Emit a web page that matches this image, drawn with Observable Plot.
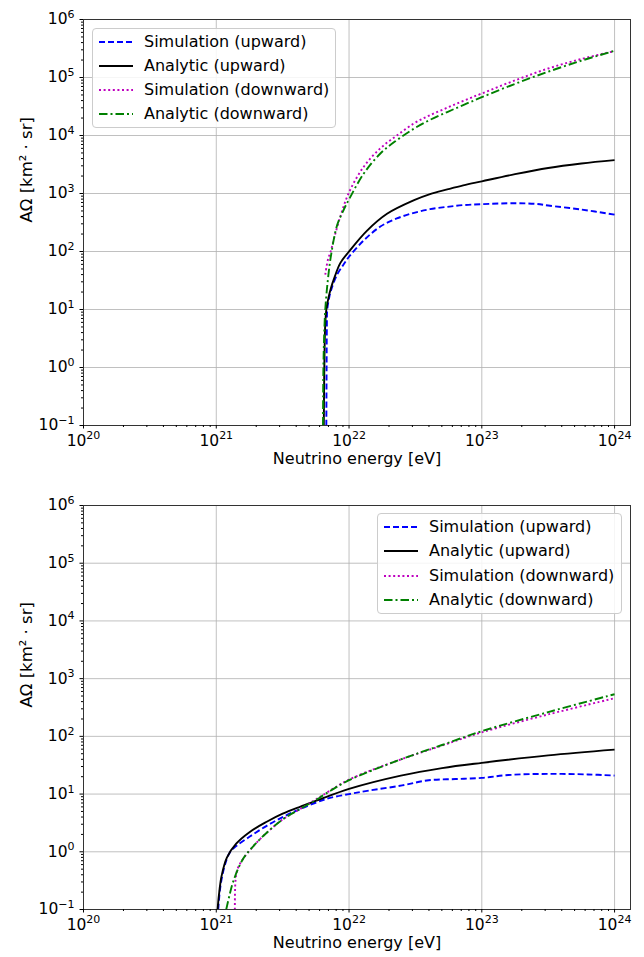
<!DOCTYPE html>
<html><head><meta charset="utf-8">
<script src="https://cdn.jsdelivr.net/npm/d3@7"></script>
<script src="https://cdn.jsdelivr.net/npm/@observablehq/plot@0.6"></script>
<style>
body{margin:0;background:#fff;font-family:"DejaVu Sans",sans-serif;}
#wrap{position:relative;width:644px;height:957px;overflow:hidden;}
.panel{position:absolute;left:0;width:644px;}
.panel svg{display:block;}
.legend{position:absolute;background:rgba(255,255,255,0.85);border:1px solid #cccccc;border-radius:4px;box-sizing:border-box;font-size:16px;color:#000;}
.legend .row{position:absolute;left:0;height:20px;width:100%;}
.legend .row svg{position:absolute;left:6px;top:0;}
.legend .row span{position:absolute;left:51px;top:0;line-height:20px;white-space:nowrap;}
</style>
</head><body>
<div id="wrap"></div>
<script>
// ---- data (log10 of energy [eV], log10 of AΩ [km²·sr]) ----
const seriesNames = ["Simulation (upward)", "Analytic (upward)", "Simulation (downward)", "Analytic (downward)"];
const xMajorExp = [20, 21, 22, 23, 24];
const yMajorExp = [-1, 0, 1, 2, 3, 4, 5, 6];
const xLabel = "Neutrino energy [eV]";
const yLabel = "AΩ [km² · sr]";

// Top panel
const topSimUpE   = [21.829, 21.831, 21.833, 21.836, 21.85, 21.864, 21.91, 21.96, 22.0, 22.11, 22.236, 22.36, 22.49, 22.61, 22.74, 22.86, 23.0, 23.25, 23.41, 23.5, 23.75, 24.0];
const topSimUpA   = [-1.0, 0.0, 0.7, 1.0, 1.2, 1.33, 1.6, 1.78, 1.91, 2.19, 2.43, 2.57, 2.667, 2.73, 2.77, 2.80, 2.815, 2.833, 2.82, 2.793, 2.724, 2.635];
const topAnaUpE   = [21.81, 21.812, 21.815, 21.82, 21.829, 21.845, 21.865, 21.89, 21.934, 22.0, 22.136, 22.286, 22.49, 22.61, 22.74, 22.86, 23.0, 23.25, 23.5, 23.75, 24.0];
const topAnaUpA   = [-1.0, -0.4, 0.2, 0.7, 1.0, 1.2, 1.38, 1.55, 1.8, 2.0, 2.36, 2.65, 2.885, 2.99, 3.07, 3.14, 3.21, 3.333, 3.44, 3.517, 3.575];
const topSimDownE = [21.821, 21.84, 21.864, 21.884, 21.934, 22.0, 22.11, 22.236, 22.36, 22.49, 22.61, 22.74, 22.86, 23.0, 23.25, 23.5, 23.75, 24.0];
const topSimDownA = [1.6, 1.85, 2.02, 2.2, 2.6, 3.02, 3.46, 3.78, 4.0, 4.21, 4.35, 4.48, 4.595, 4.725, 4.95, 5.155, 5.32, 5.455];
const topAnaDownE = [21.804, 21.805, 21.807, 21.812, 21.821, 21.84, 21.864, 21.91, 21.96, 22.0, 22.11, 22.236, 22.36, 22.49, 22.61, 22.74, 22.86, 23.0, 23.25, 23.5, 23.75, 24.0];
const topAnaDownA = [-1.0, -0.5, 0.0, 0.5, 1.0, 1.5, 1.93, 2.45, 2.72, 2.9, 3.34, 3.69, 3.92, 4.12, 4.27, 4.405, 4.525, 4.66, 4.89, 5.1, 5.29, 5.46];

// Bottom panel
const botSimUpE   = [21.015, 21.03, 21.06, 21.1, 21.15, 21.25, 21.38, 21.5, 21.63, 21.76, 21.85, 22.0, 22.15, 22.4, 22.6, 22.8, 23.0, 23.2, 23.5, 23.8, 24.0];
const botSimUpA   = [-1.0, -0.62, -0.27, -0.02, 0.1, 0.26, 0.45, 0.6, 0.74, 0.86, 0.93, 1.0, 1.06, 1.15, 1.24, 1.26, 1.28, 1.33, 1.35, 1.34, 1.32];
const botAnaUpE   = [21.01, 21.02, 21.04, 21.08, 21.15, 21.25, 21.38, 21.5, 21.63, 21.76, 22.0, 22.39, 22.7, 23.0, 23.5, 24.0];
const botAnaUpA   = [-1.0, -0.75, -0.42, -0.1, 0.14, 0.34, 0.52, 0.66, 0.78, 0.89, 1.09, 1.32, 1.45, 1.54, 1.67, 1.77];
const botSimDownE = [21.14, 21.145, 21.16, 21.2, 21.28, 21.38, 21.5, 21.63, 21.76, 22.0, 22.39, 22.7, 23.0, 23.5, 24.0];
const botSimDownA = [-1.0, -0.5, -0.3, -0.13, 0.1, 0.33, 0.56, 0.74, 0.92, 1.25, 1.6, 1.84, 2.07, 2.38, 2.66];
const botAnaDownE = [21.075, 21.1, 21.13, 21.2, 21.28, 21.38, 21.5, 21.63, 21.76, 21.82, 22.0, 22.39, 22.7, 23.0, 23.5, 24.0];
const botAnaDownA = [-1.0, -0.75, -0.5, -0.13, 0.1, 0.33, 0.56, 0.74, 0.91, 1.0, 1.24, 1.6, 1.85, 2.09, 2.42, 2.73];

// ---- styles ----
const seriesColors = ["#0000ff", "#000000", "#bf00bf", "#008000"];
const seriesDashes = ["6,3", null, "2,2.6", "8.5,3,2,3"];

const majorX = xMajorExp.map(e => 10 ** e);
const majorY = yMajorExp.map(e => 10 ** e);
const minorX = xMajorExp.slice(0, -1).flatMap(e => d3.range(2, 10).map(k => k * 10 ** e));
const minorY = yMajorExp.slice(0, -1).flatMap(e => d3.range(2, 10).map(k => k * 10 ** e));

function buildSeries(list) {
  return list.map(([E, A], i) => ({
    name: seriesNames[i], color: seriesColors[i], dash: seriesDashes[i],
    pts: E.map((e, j) => ({E: 10 ** e, A: 10 ** A[j]}))
  }));
}

function supFormat(svg) {
  d3.select(svg).selectAll("text").each(function() {
    const t = this.textContent;
    const m = /^10\^(.+)$/.exec(t);
    if (!m) return;
    const sel = d3.select(this);
    sel.text("10");
    sel.append("tspan").attr("dy", "-6.5").attr("font-size", "11px").text(m[1]);
  });
}

function makePanel(series, height, mt, mb) {
  const fmt = d => { const n = Math.round(Math.log10(d)); return "10^" + (n < 0 ? "\u2212" + (-n) : n); };
  const svg = Plot.plot({
    width: 644, height,
    marginLeft: 83, marginRight: 14, marginTop: mt, marginBottom: mb,
    style: {fontFamily: "DejaVu Sans, sans-serif", fontSize: "15.5px", color: "#000", background: "white"},
    x: {type: "log", domain: [1e20, 10 ** 24.12]},
    y: {type: "log", domain: [1e-1, 1e6]},
    marks: [
      Plot.gridX(majorX, {stroke: "#b0b0b0", strokeOpacity: 0.8, strokeWidth: 1}),
      Plot.gridY(majorY, {stroke: "#b0b0b0", strokeOpacity: 0.8, strokeWidth: 1}),
      ...series.map(s => Plot.line(s.pts, {
        x: "E", y: "A", stroke: s.color, strokeWidth: 1.9,
        strokeDasharray: s.dash, strokeLinecap: "butt", curve: "catmull-rom", clip: true
      })),
      Plot.frame({stroke: "#333", strokeWidth: 1}),
      Plot.axisX(majorX, {tickSize: 3.5, tickPadding: 5.5, tickFormat: fmt, fontSize: 15.5, label: null}),
      Plot.axisX(minorX, {tickSize: 2, tickFormat: () => "", label: null}),
      Plot.axisY(majorY, {tickSize: 3.5, tickPadding: 5.5, tickFormat: fmt, fontSize: 15.5, label: null}),
      Plot.axisY(minorY, {tickSize: 2, tickFormat: () => "", label: null}),
      Plot.text([xLabel], {text: d => d, frameAnchor: "bottom", dy: 38, fontSize: 16}),
      Plot.text([yLabel], {text: d => d, frameAnchor: "left", dx: -57, rotate: -90, fontSize: 16.5})
    ]
  });
  supFormat(svg);
  return svg;
}

function makeLegend(series, left, top, w, h, rowTop, rowStep) {
  const lg = document.createElement("div");
  lg.className = "legend";
  Object.assign(lg.style, {left: left + "px", top: top + "px", width: w + "px", height: h + "px"});
  series.forEach((s, i) => {
    const row = document.createElement("div");
    row.className = "row";
    row.style.top = (rowTop + rowStep * i - 10) + "px";
    const ns = "http://www.w3.org/2000/svg";
    const sv = document.createElementNS(ns, "svg");
    sv.setAttribute("width", "34"); sv.setAttribute("height", "20");
    const ln = document.createElementNS(ns, "line");
    ln.setAttribute("x1", "0"); ln.setAttribute("x2", "34");
    ln.setAttribute("y1", "10"); ln.setAttribute("y2", "10");
    ln.setAttribute("stroke", s.color); ln.setAttribute("stroke-width", "1.9");
    if (s.dash) ln.setAttribute("stroke-dasharray", s.dash);
    sv.appendChild(ln);
    const sp = document.createElement("span");
    sp.textContent = s.name;
    row.appendChild(sv); row.appendChild(sp);
    lg.appendChild(row);
  });
  return lg;
}

const wrap = document.getElementById("wrap");

const topSeries = buildSeries([[topSimUpE, topSimUpA], [topAnaUpE, topAnaUpA], [topSimDownE, topSimDownA], [topAnaDownE, topAnaDownA]]);
const botSeries = buildSeries([[botSimUpE, botSimUpA], [botAnaUpE, botAnaUpA], [botSimDownE, botSimDownA], [botAnaDownE, botAnaDownA]]);

const p1 = document.createElement("div"); p1.className = "panel"; p1.style.top = "0px";
p1.appendChild(makePanel(topSeries, 480, 19, 55));
p1.appendChild(makeLegend(topSeries, 92, 28, 244, 100, 12.7, 24));
wrap.appendChild(p1);

const p2 = document.createElement("div"); p2.className = "panel"; p2.style.top = "480px";
p2.appendChild(makePanel(botSeries, 477, 25, 48));
p2.appendChild(makeLegend(botSeries, 377, 33, 245, 101, 13, 24.3));
wrap.appendChild(p2);
</script>
</body></html>
